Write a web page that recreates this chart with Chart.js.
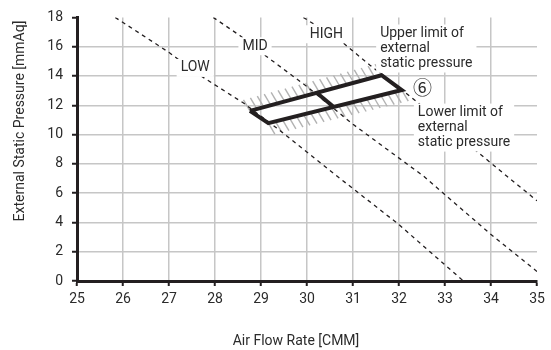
<!DOCTYPE html>
<html>
<head>
<meta charset="utf-8">
<script src="https://cdn.jsdelivr.net/npm/chart.js@4.4.1/dist/chart.umd.min.js"></script>
<style>
  html, body { margin: 0; padding: 0; background: #fff; }
  #wrap { width: 551px; height: 350px; }
</style>
</head>
<body>
<div id="wrap"><canvas id="esp"></canvas></div>
<script>
// fan curves: air flow [CMM] vs external static pressure [mmAq]
const lowFlow = [25.83, 26.98, 27.67, 28.62, 29.34, 30.65, 31.98, 33.4];
const lowPress = [18.0, 15.65, 14.05, 12.15, 10.45, 7.17, 3.9, 0];
const midFlow = [27.96, 28.54, 29.09, 29.99, 31.0, 32.53, 33.98, 35.0];
const midPress = [18.0, 16.76, 15.4, 13.3, 10.7, 7.17, 3.23, 0.65];
const highFlow = [29.92, 30.75, 31.37, 32.02, 32.38, 34.34, 35.0];
const highPress = [18.0, 16.35, 14.73, 13.15, 12.25, 7.17, 5.48];

// operating range (6)
const rangeFlow = [28.76, 31.62, 32.06, 29.16, 28.76];
const rangePress = [11.62, 14.05, 13.04, 10.78, 11.62];
const splitFlow = [30.21, 30.57];
const splitPress = [12.85, 11.92];
// upper / lower limit edges of the range
const upperFlow = [28.76, 31.62];
const upperPress = [11.62, 14.05];
const lowerFlow = [29.16, 32.06];
const lowerPress = [10.78, 13.04];

const xTicks = [25, 26, 27, 28, 29, 30, 31, 32, 33, 34, 35];
const yTicks = [0, 2, 4, 6, 8, 10, 12, 14, 16, 18];

const xTitle = 'Air Flow Rate [CMM]';
const yTitle = 'External Static Pressure [mmAq]';

const notes = [
  { lines: ['LOW'], x: 27.57, y: 14.55, align: 'center' },
  { lines: ['MID'], x: 28.87, y: 16.03, align: 'center' },
  { lines: ['HIGH'], x: 30.42, y: 16.85, align: 'center' },
  { lines: ['Upper limit of', 'external', 'static pressure'], x: 31.59, y: 16.9, align: 'left' },
  { lines: ['Lower limit of', 'external', 'static pressure'], x: 32.41, y: 11.5, align: 'left' },
];
const badge = { text: '⑥', x: 32.51, y: 13.26 };

const ink = '#231f20';
const textColor = '#2b2b2b';
const gridColor = '#c6c6c6';
const font = 'Roboto';

const pts = (xs, ys) => xs.map((v, i) => ({ x: v, y: ys[i] }));

const curve = (label, xs, ys) => ({
  label,
  data: pts(xs, ys),
  showLine: true,
  borderColor: ink,
  borderWidth: 1.3,
  borderDash: [4, 4],
  pointRadius: 0,
  fill: false,
});

const hatch = {
  id: 'hatch',
  beforeDatasetsDraw(chart) {
    const { ctx, scales: { x, y } } = chart;
    ctx.save();
    ctx.strokeStyle = '#b2b2b2';
    ctx.lineWidth = 1.4;
    const band = (fx, fy, dx, dy) => {
      const ax = x.getPixelForValue(fx[0]), ay = y.getPixelForValue(fy[0]);
      const bx = x.getPixelForValue(fx[1]), by = y.getPixelForValue(fy[1]);
      const n = Math.round(Math.hypot(bx - ax, by - ay) / 7.2);
      for (let i = 0; i <= n; i++) {
        const px = ax + (bx - ax) * i / n, py = ay + (by - ay) * i / n;
        ctx.beginPath();
        ctx.moveTo(px, py);
        ctx.lineTo(px + dx, py + dy);
        ctx.stroke();
      }
    };
    band(upperFlow, upperPress, -6.5, -11);
    band(lowerFlow, lowerPress, 6.5, 11);
    ctx.restore();
  }
};

const labels = {
  id: 'labels',
  afterDraw(chart) {
    const { ctx, scales: { x, y } } = chart;
    ctx.save();
    ctx.font = '14px ' + font;
    ctx.textBaseline = 'middle';
    const lh = 15;
    notes.forEach(n => {
      const px = x.getPixelForValue(n.x), py = y.getPixelForValue(n.y);
      const w = Math.max(...n.lines.map(l => ctx.measureText(l).width));
      const left = n.align === 'center' ? px - w / 2 : px;
      ctx.fillStyle = '#fff';
      ctx.fillRect(left - 4, py - 9, w + 8, lh * (n.lines.length - 1) + 18);
      ctx.fillStyle = textColor;
      ctx.textAlign = n.align;
      n.lines.forEach((l, i) => ctx.fillText(l, px, py + i * lh));
    });
    // circled number
    ctx.font = '19px "Noto Sans CJK JP"';
    ctx.textAlign = 'center';
    ctx.fillText(badge.text, x.getPixelForValue(badge.x), y.getPixelForValue(badge.y) + 1);
    // axis titles
    ctx.font = '14px ' + font;
    ctx.fillText(xTitle, 296, 341);
    ctx.translate(20, 121);
    ctx.rotate(-Math.PI / 2);
    ctx.fillText(yTitle, 0, 0);
    ctx.restore();
  }
};

new Chart(document.getElementById('esp'), {
  type: 'scatter',
  data: {
    datasets: [
      {
        label: 'range',
        data: pts(rangeFlow, rangePress),
        showLine: true,
        borderColor: ink,
        borderWidth: 4,
        borderJoinStyle: 'miter',
        pointRadius: 0,
        fill: false,
      },
      {
        label: 'split',
        data: pts(splitFlow, splitPress),
        showLine: true,
        borderColor: ink,
        borderWidth: 4,
        pointRadius: 0,
        fill: false,
      },
      curve('LOW', lowFlow, lowPress),
      curve('MID', midFlow, midPress),
      curve('HIGH', highFlow, highPress),
    ],
  },
  options: {
    responsive: true,
    maintainAspectRatio: false,
    animation: false,
    layout: { padding: { left: 0, right: 14, top: 15, bottom: 0 } },
    plugins: { legend: { display: false }, tooltip: { enabled: false } },
    scales: {
      x: {
        type: 'linear',
        min: xTicks[0],
        max: xTicks[xTicks.length - 1],
        afterBuildTicks: s => { s.ticks = xTicks.map(v => ({ value: v })); },
        afterFit: s => { s.height = 69; },
        ticks: { color: textColor, font: { family: font, size: 14 }, padding: 5 },
        grid: {
          color: c => (c.tick && c.tick.value === 35 ? 'rgba(0,0,0,0)' : gridColor),
          lineWidth: 1.5,
          tickColor: ink,
          tickLength: 5,
          tickWidth: 2,
        },
        border: { color: ink, width: 3 },
      },
      y: {
        type: 'linear',
        min: yTicks[0],
        max: yTicks[yTicks.length - 1],
        afterBuildTicks: s => { s.ticks = yTicks.map(v => ({ value: v })); },
        afterFit: s => { s.width = 77; },
        ticks: { color: textColor, font: { family: font, size: 14 }, padding: 9 },
        grid: {
          color: c => (c.tick && c.tick.value === 18 ? 'rgba(0,0,0,0)' : gridColor),
          lineWidth: 1.5,
          tickColor: ink,
          tickLength: 5,
          tickWidth: 2,
        },
        border: { color: ink, width: 3 },
      },
    },
  },
  plugins: [hatch, labels],
});
</script>
</body>
</html>
